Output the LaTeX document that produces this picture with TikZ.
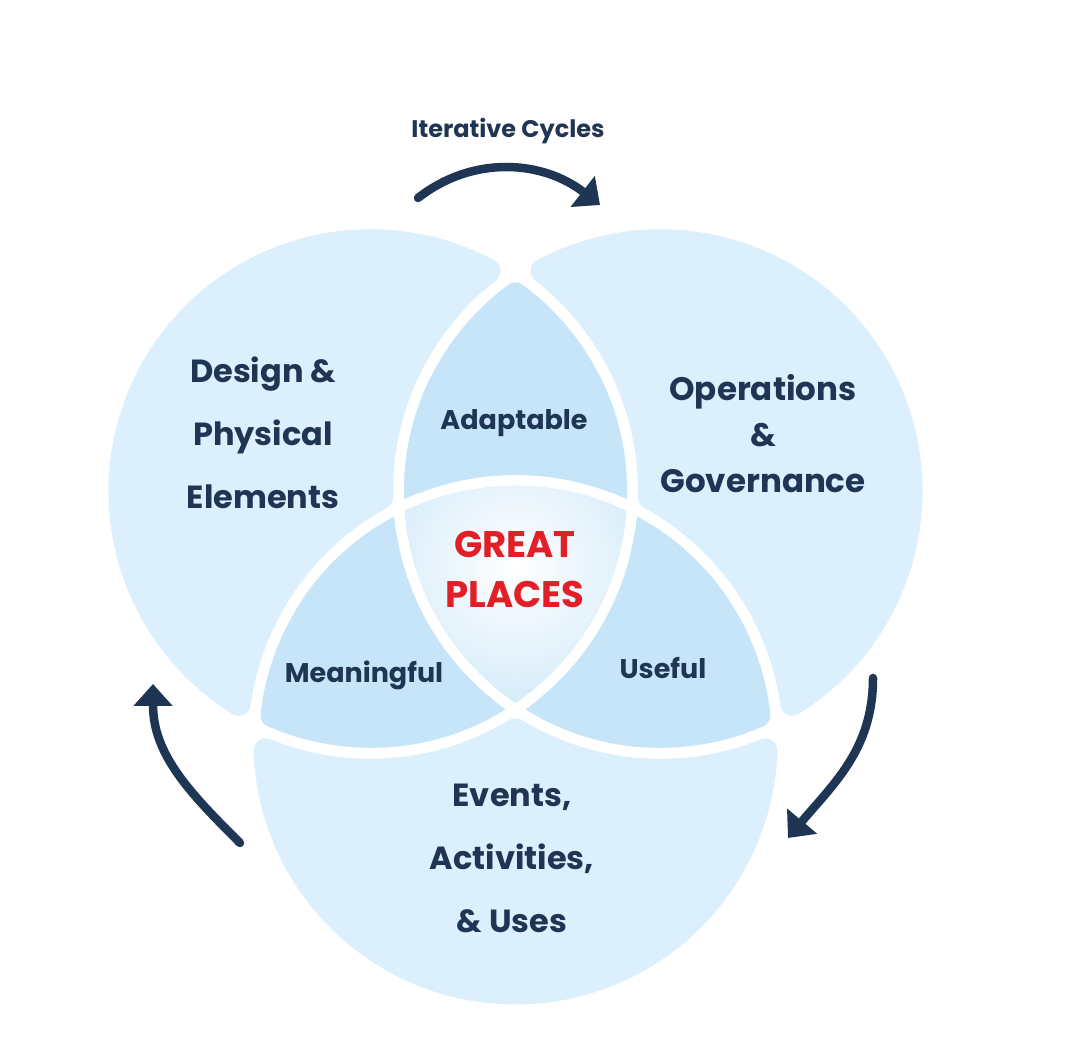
\documentclass[tikz,border=0pt]{standalone}
\usepackage{fontspec}
\setmainfont{Poppins}
\usetikzlibrary{arrows.meta}
\definecolor{outerblue}{HTML}{DBEFFC}
\definecolor{lensblue}{HTML}{C7E5F8}
\definecolor{navy}{HTML}{1F3554}
\definecolor{gred}{HTML}{E21E26}
\begin{document}
\begin{tikzpicture}[x=1pt,y=1pt,
  outerreg/.style={fill=outerblue, draw=outerblue, line width=24pt, line join=round},
  lensreg/.style={fill=lensblue, draw=lensblue, line width=24pt, line join=round},
  bigtxt/.style={text=navy, font=\bfseries\fontsize{32}{63}\selectfont, align=center, inner sep=0pt},
  opstxt/.style={text=navy, font=\bfseries\fontsize{32.5}{46}\selectfont, align=center, inner sep=0pt},
  midtxt/.style={text=navy, font=\bfseries\fontsize{27}{30}\selectfont, inner sep=0pt},
  greattxt/.style={text=gred, font=\bfseries\fontsize{37}{50}\selectfont, align=center, inner sep=0pt},
  cyc/.style={draw=navy, line width=8.5pt, line cap=round, -{Triangle[length=22pt,width=38pt]}}
]
\useasboundingbox (0,0) rectangle (1070,1056);
\fill[white] (0,0) rectangle (1070,1056);

\begin{scope}[shift={(515.5,481)}]
  % outer regions and lenses (one sector, then rotated copies)
  \foreach \ang in {0,120,-120}{
    \begin{scope}[rotate=\ang]
      \path[outerreg] (-26.93,304.08)
        arc[start angle=61.81,end angle=238.18,radius=250]
        arc[start angle=172.04,end angle=118.75,radius=279.5]
        arc[start angle=181.25,end angle=127.97,radius=279.5] -- cycle;
      \path[lensreg] (0,280.58)
        arc[start angle=53.63,end angle=2.37,radius=244.5]
        arc[start angle=69.19,end angle=110.81,radius=279.5]
        arc[start angle=177.63,end angle=126.37,radius=244.5] -- cycle;
      % sharp inner corners of the lens
      \begin{scope}
        \clip (-145,83.72) circle[radius=256.5];
        \clip (145,83.72) circle[radius=256.5];
        \clip (-300,-300) rectangle (300,200);
        \fill[lensblue, even odd rule] (-400,-400) rectangle (400,400)
          (0,-167.43) circle[radius=267.5];
      \end{scope}
    \end{scope}
  }
  % centre region with glow
  \begin{scope}
    \clip (-145,83.72) circle[radius=256.5];
    \clip (145,83.72) circle[radius=256.5];
    \clip (0,-167.43) circle[radius=256.5];
    \fill[lensblue] (-300,-300) rectangle (300,300);
    \shade[inner color=white, outer color=lensblue] (0,10) circle[radius=190];
  \end{scope}
\end{scope}

% texts
\node[midtxt, font=\bfseries\fontsize{24}{30}\selectfont] (iter) at (508,925) {Iterative Cycles};
\node[bigtxt] (design) at (263,623) {Design \&\\Physical\\Elements};
\node[opstxt] (ops) at (763,622) {Operations\\\&\\Governance};
\node[midtxt] (adapt) at (514,633) {Adaptable};
\node[greattxt] (great) at (515,486) {GREAT\\PLACES};
\node[midtxt] (mean) at (364,381) {Meaningful};
\node[midtxt] (useful) at (663,388) {Useful};
\node[bigtxt] (events) at (512,198) {Events,\\Activities,\\\& Uses};

% cycle arrows
\coordinate (t1) at (418,858);
\coordinate (t2) at (600,851);
\coordinate (r1) at (873,378);
\coordinate (r2) at (788,218);
\coordinate (l1) at (240,213);
\coordinate (l2) at (153,372);
\draw[cyc] (t1) to[out=38,in=142] (t2);
\draw[cyc] (r1) to[out=-90,in=50] (r2);
\draw[cyc] (l1) to[out=135,in=-90] (l2);
\end{tikzpicture}
\end{document}
